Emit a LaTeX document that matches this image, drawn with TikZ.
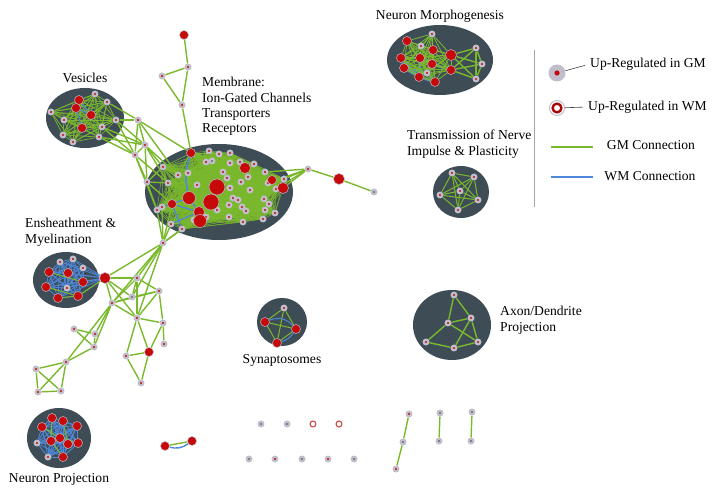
\documentclass[tikz,border=0pt]{standalone}
\usepackage{fontspec}
\setmainfont{Liberation Serif}
\usetikzlibrary{positioning,shapes.geometric}
\definecolor{nRojo}{RGB}{198,10,10}
\definecolor{nHalo}{RGB}{192,190,202}
\definecolor{nGris}{RGB}{105,105,115}
\definecolor{nVerde}{RGB}{122,184,44}
\definecolor{nAzul}{RGB}{78,136,218}
\definecolor{nFondo}{RGB}{62,76,86}
\pgfdeclarelayer{bg}
\pgfdeclarelayer{edges}
\pgfsetlayers{bg,edges,main}
% every pair of nodes #1<i> (i=1..#2) joined with style #3
\newcommand{\meshall}[3]{%
  \foreach \i in {1,...,#2}{\foreach \j in {1,...,#2}{%
    \ifnum\i<\j \draw[#3] (#1\i) -- (#1\j);\fi}}}

\begin{document}
\begin{tikzpicture}[x=1pt, y=-1pt,
     gm/.style={circle, inner sep=0pt, minimum size=7pt, fill=nHalo,
                path picture={\fill[nRojo] (path picture bounding box.center) circle (1.15pt);}},
     gy/.style={circle, inner sep=0pt, minimum size=7pt, fill=nHalo,
                path picture={\fill[nGris] (path picture bounding box.center) circle (1.15pt);}},
     rdA/.style={circle, inner sep=0pt, minimum size=6pt, fill=nRojo, draw=nHalo, line width=.5pt},
     rdB/.style={rdA, minimum size=9pt},
     rdC/.style={rdA, minimum size=11pt},
     rdD/.style={rdA, minimum size=13pt},
     rdE/.style={rdA, minimum size=16pt},
     wmr/.style={circle, inner sep=0pt, minimum size=6pt, fill=white, draw=nRojo!80, line width=1pt},
     clus/.style={ellipse, inner sep=0pt, fill=nFondo},
     gl/.style={nVerde, line width=1.4pt},
     bl/.style={nAzul, line width=1.4pt},
     mesh/.style={nVerde, line width=.45pt},
     lbl/.style={font=\fontsize{13.6}{15.4}\selectfont, inner sep=0pt, align=left}]
    \useasboundingbox (0,0) rectangle (715,494);

    % clusters
    \begin{pgfonlayer}{bg}
    \node[clus, minimum width=78pt, minimum height=60pt] (cVes) at (85,118) {};
    \node[clus, minimum width=148pt, minimum height=96pt] (cMem) at (219,192) {};
    \node[clus, minimum width=106pt, minimum height=70pt] (cMor) at (440,60) {};
    \node[clus, minimum width=56pt, minimum height=52pt] (cTra) at (461,192) {};
    \node[clus, minimum width=66pt, minimum height=56pt] (cEns) at (66,280) {};
    \node[clus, minimum width=50pt, minimum height=48pt] (cSyn) at (282,322) {};
    \node[clus, minimum width=78pt, minimum height=70pt] (cAxo) at (452,325) {};
    \node[clus, minimum width=64pt, minimum height=60pt] (cPro) at (59,438) {};
    \end{pgfonlayer}

    % cluster names
    \node[lbl, above=2.5pt of cMor] (tMor) {Neuron Morphogenesis};
    \node[lbl, above=5pt of cVes] (tVes) {Vesicles};
    \node[lbl, anchor=north west] (tMem) at (202,77) {Membrane:\\ Ion-Gated Channels\\ Transporters\\ Receptors};
    \node[lbl, anchor=north west] (tTra) at (407,130) {Transmission of Nerve\\ Impulse \& Plasticity};
    \node[lbl, anchor=north west] (tEns) at (25,218) {Ensheathment \&\\ Myelination};
    \node[lbl, below=8pt of cSyn] (tSyn) {Synaptosomes};
    \node[lbl, anchor=north west] (tAxo) at (500,306) {Axon/Dendrite\\ Projection};
    \node[lbl, below=5pt of cPro] (tPro) {Neuron Projection};

    % membrane
    \foreach \x/\y/\s [count=\i] in {
      209/151/gm, 219/154/gm, 230/153/gm, 206/162/gm, 212/161/gy, 223/172/gm, 230/163/gm, 240/162/gm, 254/164/gm, 265/172/gm,
      178/175/gm, 188/173/gm, 163/167/gm, 168/183/gm, 197/185/gm, 227/178/gm, 230/188/gm, 241/182/gm, 248/177/gm, 250/190/gm,
      268/183/gm, 276/189/gm, 284/179/gm, 264/199/gm, 269/204/gm, 233/198/gm, 229/205/gm, 238/200/gm, 242/207/gm, 246/211/gm,
      217/210/gm, 229/217/gm, 243/222/gm, 263/219/gm, 265/210/gm, 275/213/gm, 157/210/gm, 162/207/gm, 171/224/gm, 182/229/gm,
      194/220/gm, 206/217/gm, 217/187/rdE, 211/202/rdE, 189/198/rdD, 199/212/rdC, 200/221/rdD, 245/168/rdC, 272/180/rdB, 283/188/rdC,
      172/204/rdB, 191/153/rdB}
      \node[\s] (mem\i) at (\x,\y) {};
    \node[gm] (lnk1) at (138,120) {};
    \node[gm] (lnk2) at (145,145) {};
    \node[gm] (lnk3) at (135,155) {};
    \node[gm] (lnk4) at (147,182) {};
    \node[gm] (mx1) at (308,169) {};
    \node[rdC] (mx2) at (339,179) {};
    \node[gy] (mx3) at (374,192) {};
    \node[rdB] (stm1) at (184,35) {};
    \node[gm] (stm2) at (188,67) {};
    \node[gm] (stm3) at (162,76) {};
    \node[gm] (stm4) at (182,105) {};

    % vesicles
    \foreach \x/\y/\s [count=\i] in {95/94/gm, 107/102/gm, 79/100/rdB, 76/108/rdB, 91/115/rdB, 82/128/rdB, 51/112/gm,
      64/120/gm, 116/120/gm, 102/127/gm, 63/135/gm, 73/142/gm, 99/137/gm}
      \node[\s] (ves\i) at (\x,\y) {};

    % ensheathment and the web below it
    \foreach \x/\y/\s [count=\i] in {60/262/gm, 73/259/gm, 83/268/gm, 49/272/rdB, 68/273/rdB, 83/282/rdB, 46/287/rdB,
      67/288/gm, 58/298/rdB, 78/296/rdB}
      \node[\s] (ens\i) at (\x,\y) {};
    \node[rdC] (hub) at (105,278) {};
    \foreach \x/\y/\s [count=\i] in {163/243/gm, 137/278/gm, 159/291/gm, 112/303/gm, 132/297/gy, 137/318/gm, 163/323/gm,
      164/344/gm, 149/352/rdB, 126/356/gm, 141/383/gm, 74/329/gm, 95/334/gm, 94/347/gm, 66/362/gm, 36/369/gm, 38/392/gm, 61/391/gm}
      \node[\s] (web\i) at (\x,\y) {};

    % morphogenesis
    \foreach \x/\y/\s [count=\i] in {432/34/gm, 407/41/rdB, 421/46/gm, 433/50/rdB, 451/55/rdC, 401/58/rdB, 420/58/rdB,
      432/64/rdB, 404/68/rdB, 451/70/rdB, 427/73/gm, 419/77/rdB, 435/82/rdB, 476/48/gm, 482/64/gm, 476/79/gm}
      \node[\s] (mor\i) at (\x,\y) {};

    % transmission, synaptosomes, axon, projection
    \foreach \x/\y [count=\i] in {452/173, 474/177, 478/200, 458/210, 440/195, 460/191}
      \node[gm] (tra\i) at (\x,\y) {};
    \foreach \x/\y/\s [count=\i] in {284/308/gm, 265/322/rdB, 296/329/rdB, 277/343/rdB}
      \node[\s] (syn\i) at (\x,\y) {};
    \foreach \x/\y [count=\i] in {454/295, 471/318, 448/323, 426/342, 454/348, 478/342}
      \node[gm] (axo\i) at (\x,\y) {};
    \foreach \x/\y/\s [count=\i] in {52/418/rdB, 63/421/rdB, 42/427/rdB, 77/426/rdB, 60/438/rdB, 37/443/gm, 51/441/rdB,
      68/444/rdB, 78/443/rdB, 48/457/gm, 63/457/rdB}
      \node[\s] (pro\i) at (\x,\y) {};

    % loose nodes at the bottom
    \node[rdB] (bot1) at (165,446) {};
    \node[rdB] (bot2) at (192,441) {};
    \foreach \x/\y/\s [count=\i] in {261/424/gy, 287/424/gy, 313/424/wmr, 339/424/wmr, 249/459/gy, 275/459/gm,
      302/459/gy, 328/459/gm, 354/459/gy}
      \node[\s] (dot\i) at (\x,\y) {};
    \foreach \x/\y/\s [count=\i] in {409/414/gm, 403/442/gy, 396/469/gm, 440/413/gy, 439/441/gy, 472/412/gy, 471/441/gy}
      \node[\s] (chn\i) at (\x,\y) {};

    \begin{pgfonlayer}{edges}
    \meshall{mem}{52}{mesh}
    \draw[bl, line width=1.6pt] (mem52) to[bend right=15] (mem45);
    \foreach \a/\b in {mem45/mem46, mem51/mem46, mem39/mem46, mem38/mem45, mem46/mem47, mem51/mem40}
      \draw[bl, line width=1.3pt] (\a) -- (\b);
    \meshall{ves}{13}{mesh, line width=.7pt}
    \foreach \a/\b in {ves4/ves6, ves4/ves5, ves3/ves5}
      \draw[bl, line width=1pt] (\a) -- (\b);
    \meshall{ens}{10}{nAzul, line width=.8pt}
    \foreach \i in {1,...,10}
      \draw[nAzul, line width=.7pt] (hub) -- (ens\i);
    \foreach \a/\b in {ens7/ens10, ens4/ens6, hub/ens10, ens9/ens10}
      \draw[gl, line width=1pt] (\a) -- (\b);
    \foreach \a/\b in {mor6/mor9, mor9/mor12, mor6/mor7, mor7/mor8, mor8/mor11, mor9/mor11, mor12/mor13,
      mor7/mor12, mor6/mor12, mor8/mor10, mor11/mor13}
      \draw[bl, line width=2.5pt] (\a) -- (\b);
    \meshall{mor}{13}{mesh, line width=.8pt}
    \meshall{tra}{6}{gl, line width=1pt}
    \meshall{syn}{4}{gl, line width=1pt}
    \draw[bl, line width=1pt] (syn2) to[bend left=35] (syn3);
    \draw[bl, line width=1pt] (syn4) to[bend right=20] (syn3);
    \meshall{pro}{11}{nAzul, line width=.9pt}
    \foreach \a/\b in {pro3/pro5, pro5/pro9, pro2/pro8, pro1/pro7, pro7/pro11}
      \draw[gl, line width=1pt] (\a) -- (\b);
    \foreach \a/\b in {hub/web1, hub/web2, hub/web4, hub/web5, hub/web6,
      web1/web2, web1/web4, web1/web5, web1/web6, web2/web3, web2/web4, web2/web5, web2/web6,
      web3/web4, web3/web5, web3/web6, web3/web7, web4/web5, web4/web6,
      web6/web7, web6/web9, web6/web10, web7/web8, web7/web9, web9/web10, web9/web11, web10/web11,
      web4/web13, web4/web14, web4/web15, web12/web13, web12/web14, web13/web14, web14/web15,
      web15/web16, web15/web17, web15/web18, web16/web17, web16/web18, web17/web18,
      web1/mem39, web1/mem40, web1/mem37, web1/mem51, web1/mem38, web1/mem41,
      lnk4/mem37, lnk4/mem14, lnk4/mem51, lnk4/mem13, lnk2/mem11, lnk2/mem13, lnk2/mem14, lnk2/lnk4,
      lnk3/mem14, lnk3/mem37, lnk3/lnk4, lnk1/lnk2, lnk1/lnk3, lnk2/lnk3, lnk1/mem11, lnk1/mem4,
      ves9/lnk2, ves9/lnk3, ves10/lnk2, ves10/lnk3, ves13/lnk2, ves13/lnk3, ves9/lnk1, ves2/lnk1,
      stm1/stm2, stm2/stm3, stm3/stm4, stm2/stm4, stm4/mem52,
      mx1/mem23, mx1/mem22, mx1/mem10, mx1/mem21, mx1/mem50, mx1/mx2, mx2/mx3,
      mor5/mor14, mor5/mor15, mor5/mor16, mor10/mor14, mor10/mor15, mor10/mor16,
      mor14/mor15, mor15/mor16, mor14/mor16,
      axo1/axo2, axo1/axo3, axo2/axo3, axo3/axo4, axo3/axo6, axo2/axo6, axo2/axo5, axo4/axo5, axo5/axo6,
      bot1/bot2, chn1/chn2, chn2/chn3, chn4/chn5, chn6/chn7}
      \draw[gl] (\a) -- (\b);
    \draw[bl] (bot1) to[bend right=25] (bot2);
    \end{pgfonlayer}

    % legend
    \coordinate (sepA) at (534,50);
    \coordinate (sepB) at (534,207);
    \draw[nGris!60, line width=.8pt] (sepA) -- (sepB);
    \node[circle, inner sep=0pt, minimum size=17pt, fill=nHalo,
          path picture={\fill[nRojo] (path picture bounding box.center) circle (2.6pt);}] (keyGM) at (557,73) {};
    \node[lbl, anchor=west] (txtGM) at (590,64) {Up-Regulated in GM};
    \draw[black!75, line width=.6pt, shorten >=5pt] (keyGM) -- (txtGM.west);
    \node[circle, inner sep=0pt, minimum size=15pt, fill=white, draw=nHalo, line width=1pt,
          path picture={\draw[nRojo!85!black, line width=2.4pt] (path picture bounding box.center) circle (4.4pt);}] (keyWM) at (557,108) {};
    \node[lbl, anchor=west] (txtWM) at (588,107) {Up-Regulated in WM};
    \draw[black!75, line width=.6pt, shorten >=5pt] (keyWM) -- (txtWM.west);
    \coordinate (gA) at (551,147);
    \coordinate (gB) at (593,147);
    \draw[gl, line width=2pt] (gA) -- (gB);
    \node[lbl] (txtGL) at (651,145) {GM Connection};
    \coordinate (bA) at (551,177);
    \coordinate (bB) at (593,177);
    \draw[bl, line width=2pt] (bA) -- (bB);
    \node[lbl] (txtBL) at (650,176) {WM Connection};
  \end{tikzpicture}
\end{document}
